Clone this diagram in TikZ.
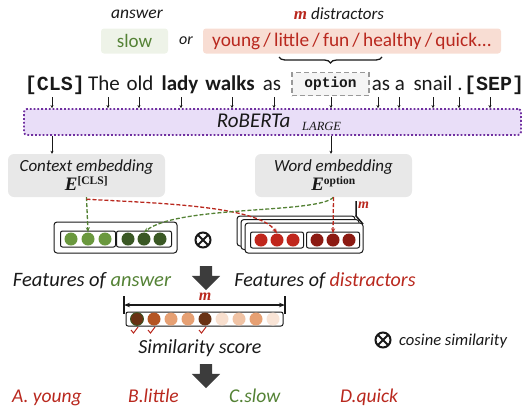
\documentclass[tikz,border=0pt]{standalone}
\usepackage{fontspec}
\setmainfont{Carlito}
\setmonofont{Liberation Mono}
\newfontfamily\seriffont{Liberation Serif}
\usetikzlibrary{shapes.arrows,arrows.meta,decorations.pathreplacing,calc}
\definecolor{txt}{RGB}{25,25,25}
\definecolor{ggreen}{RGB}{84,130,53}
\definecolor{rred}{RGB}{185,40,30}
\definecolor{greenfill}{RGB}{238,243,232}
\definecolor{redfill}{RGB}{248,221,211}
\definecolor{lav}{RGB}{233,222,248}
\definecolor{purp}{RGB}{112,48,160}
\definecolor{embfill}{RGB}{232,232,232}
\definecolor{gL}{RGB}{106,152,62}
\definecolor{gD}{RGB}{58,88,36}
\definecolor{rL}{RGB}{192,38,28}
\definecolor{rD}{RGB}{140,26,18}
\definecolor{s1}{RGB}{105,50,20}
\definecolor{s2}{RGB}{180,85,35}
\definecolor{s3}{RGB}{230,160,115}
\definecolor{s6}{RGB}{248,223,206}
\definecolor{s7}{RGB}{240,195,165}
\definecolor{s9}{RGB}{249,228,214}
\definecolor{arrgray}{RGB}{60,60,60}
\tikzset{
  every node/.style={inner sep=0pt, text=txt},
  wordnode/.style={anchor=base, font=\fontsize{21}{24}\selectfont},
  tok/.style={-{Stealth[length=3pt,width=3pt]}, line width=0.6pt, txt},
  embox/.style={fill=embfill, rounded corners=6pt, minimum width=157pt, minimum height=43pt, align=center, font=\fontsize{17}{19}\selectfont},
  featbox/.style={draw=txt, line width=1pt, rounded corners=3pt, fill=white},
  innerbox/.style={draw=txt, line width=1pt, rounded corners=2pt},
  dotc/.style={circle, minimum size=13pt},
  simc/.style={circle, minimum size=13pt},
  gdash/.style={dashed, dash pattern=on 4pt off 2pt, line width=1.3pt, ggreen, -{Stealth[length=5pt,width=4pt]}},
  rdash/.style={dashed, dash pattern=on 4pt off 2pt, line width=1.3pt, rred, -{Stealth[length=5pt,width=4pt]}},
  bigarrow/.style={single arrow, shape border rotate=270, fill=arrgray, inner sep=6pt, single arrow head extend=8pt, minimum height=24pt, single arrow head indent=0pt},
  otimes/.style={circle, draw=txt, line width=2pt, minimum size=15pt, path picture={\draw[line width=2pt] (path picture bounding box.north west) -- (path picture bounding box.south east) (path picture bounding box.north east) -- (path picture bounding box.south west);}},
  chk/.style={rred, line width=1pt}
}
\newcommand{\mm}{{\seriffont\bfseries\itshape\color{rred}m}}
\newcommand{\embE}[1]{{\seriffont\bfseries\itshape\fontsize{19}{20}\selectfont E}\textsuperscript{\seriffont\bfseries\fontsize{11.5}{12}\selectfont #1}}
\begin{document}
\begin{tikzpicture}[x=1pt,y=-1pt]
\useasboundingbox (0,0) rectangle (529,410);
% top labels
\node[font=\fontsize{17.5}{19}\selectfont] (lblans) at (137,14) {\itshape answer};
\node[font=\fontsize{17}{19}\selectfont] (lbldis) at (339,14) {\mm\ \itshape distractors};
\node[fill=greenfill, rounded corners=3pt, minimum width=67pt, minimum height=25pt, font=\fontsize{19}{21}\selectfont, text=ggreen] (slow) at (134.5,41) {slow};
\node[font=\fontsize{16}{18}\selectfont] (or) at (186,41) {\itshape or};
\node[fill=redfill, rounded corners=3pt, minimum width=298pt, minimum height=25pt, font=\fontsize{19.3}{21}\selectfont, text=rred] (dis) at (352,41) {young\,/\,little\,/\,fun\,/\,healthy\,/\,quick...};
\coordinate (brR) at (382,57);
\coordinate (brL) at (279,57);
\draw[decorate, decoration={brace, amplitude=6pt}, line width=1.3pt, txt] (brR) -- (brL);
% sentence
\node[wordnode, font=\fontsize{20}{24}\selectfont\ttfamily\bfseries] (w1) at (55,90) {[CLS]};
\node[wordnode] (w2) at (104,90) {The};
\node[wordnode] (w3) at (140,90) {old};
\node[wordnode, font=\fontsize{21}{24}\selectfont\bfseries] (w4) at (180,90) {lady};
\node[wordnode, font=\fontsize{21}{24}\selectfont\bfseries] (w5) at (230,90) {walks};
\node[wordnode] (w6) at (272,90) {as};
\node[draw=gray!80, dashed, dash pattern=on 5pt off 3pt, line width=1.6pt, fill=gray!8, minimum width=77pt, minimum height=23pt, font=\fontsize{14.5}{16}\selectfont\ttfamily\bfseries] (w7) at (330.5,84) {option};
\node[wordnode] (w8) at (381,90) {as};
\node[wordnode] (w9) at (400,90) {a};
\node[wordnode] (w10) at (433,90) {snail};
\node[wordnode] (w11) at (460,90) {.};
\node[wordnode, font=\fontsize{20}{24}\selectfont\ttfamily\bfseries] (w12) at (494,90) {[SEP]};
% roberta
\node[draw=purp, dotted, line width=1.8pt, fill=lav, rounded corners=3pt, minimum width=497pt, minimum height=26pt] (rob) at (272.5,122) {};
\node[font=\fontsize{21}{22}\selectfont] (roblab) at (279,122) {\itshape RoBERTa\,\, \raisebox{-3pt}{\seriffont\itshape\fontsize{12.5}{12}\selectfont LARGE}};
\foreach \w/\xx in {w1/52,w2/108,w3/139,w4/181,w5/232,w6/274,w7/331,w8/378,w9/399,w10/433,w11/459,w12/490}{
  \coordinate (a\w) at (\xx,97);
  \draw[tok] (a\w) -- (a\w |- rob.north);
}
% embedding boxes
\node[embox] (ctx) at (86.5,175.5) {\itshape Context embedding\\[0pt] \embE{[CLS]}};
\node[embox] (wemb) at (333.5,175.5) {\itshape Word embedding\\[0pt] \embE{option}};
\draw[tok] (aw1 |- rob.south) -- (aw1 |- ctx.north);
\draw[tok] (aw7 |- rob.south) -- (aw7 |- wemb.north);
% answer features
\node[featbox, minimum width=123pt, minimum height=31pt] (fa) at (115.5,237.5) {};
\node[innerbox, minimum width=55pt, minimum height=16pt] (fa1) at (88,239) {};
\node[innerbox, minimum width=55pt, minimum height=16pt] (fa2) at (144,239) {};
\node[dotc, fill=gL] (ga1) at (71,239) {};
\node[dotc, fill=gL] (ga2) at (88,239) {};
\node[dotc, fill=gL] (ga3) at (105,239) {};
\node[dotc, fill=gD] (gb1) at (128,239) {};
\node[dotc, fill=gD] (gb2) at (144,239) {};
\node[dotc, fill=gD] (gb3) at (160,239) {};
% distractor features (stack)
\node[featbox, minimum width=118pt, minimum height=30pt] (fdb) at (296,231) {};
\node[featbox, minimum width=118pt, minimum height=30pt] (fdm) at (300,234.5) {};
\node[featbox, minimum width=118pt, minimum height=30pt] (fd) at (304,238) {};
\node[innerbox, minimum width=53pt, minimum height=16pt] (fd1) at (277,240) {};
\node[innerbox, minimum width=53pt, minimum height=16pt] (fd2) at (333,240) {};
\node[dotc, fill=rL] (ra1) at (261,240) {};
\node[dotc, fill=rL] (ra2) at (277,240) {};
\node[dotc, fill=rL] (ra3) at (293,240) {};
\node[dotc, fill=rD] (rb1) at (317,240) {};
\node[dotc, fill=rD] (rb2) at (333,240) {};
\node[dotc, fill=rD] (rb3) at (349,240) {};
\coordinate (mtop) at (356,201);
\coordinate (mbot) at (356,216);
\coordinate (mend) at (363,224);
\draw[line width=1.5pt, txt] (mtop) -- (mbot) -- (mend);
\draw[line width=1pt, txt] (fdb.north east) -- (mbot);
\node[anchor=west, font=\fontsize{14}{14}\selectfont] (mlab) at (358,205) {\mm};
% dashed connectors
\draw[gdash] (ctx.south) -- (ga2.north);
\draw[rdash] ($(ctx.south)+(0,2)$) .. controls (150,203) and (258,205) .. (ra2.north);
\draw[gdash] (wemb.south) .. controls (318,214) and (178,205) .. (gb2.north);
\draw[rdash] (wemb.south) -- (rb2.north);
% otimes
\node[otimes] (ot) at (203,240) {};
% feature labels
\node[font=\fontsize{20.5}{22}\selectfont] (lfa) at (92,281) {\itshape Features of {\color{ggreen}answer}};
\node[font=\fontsize{20}{22}\selectfont] (lfd) at (325,281) {\itshape Features of {\color{rred}distractors}};
\node[bigarrow] (ba1) at (206,275) {};
% similarity
\node[featbox, rounded corners=2pt, minimum width=157pt, minimum height=14pt] (sim) at (204.5,319) {};
\foreach \i/\xx/\cc in {1/137/s1,2/154/s2,3/171/s3,4/188/s3,5/205/s1,6/222/s6,7/239/s7,8/256/s3,9/273/s9}{
  \node[simc, fill=\cc] (sc\i) at (\xx,319) {};
}
\draw[gD, line width=0.8pt] (sc1) circle (6.5pt);
\coordinate (dimL) at (124,305);
\coordinate (dimR) at (285,305);
\draw[line width=1.3pt, txt] ($(dimL)+(0,-9)$) -- ($(dimL)+(0,9)$);
\draw[line width=1.3pt, txt] ($(dimR)+(0,-9)$) -- ($(dimR)+(0,9)$);
\draw[line width=1.3pt, txt, {Stealth[length=6pt]}-{Stealth[length=6pt]}] (dimL) -- (dimR);
\node[font=\fontsize{16}{16}\selectfont] (mdim) at (205,297) {\mm};
\foreach \i in {1,2,5}{
  \draw[chk] ($(sc\i)+(-6,11)$) -- ($(sc\i)+(-3.5,14)$) -- ($(sc\i)+(1,8)$);
}
\node[font=\fontsize{20}{22}\selectfont] (lsim) at (200,348) {\itshape Similarity score};
\node[otimes] (ot2) at (383,340) {};
\node[anchor=west, font=\fontsize{16.6}{18}\selectfont] (lcos) at (399,341) {\itshape cosine similarity};
\node[bigarrow] (ba2) at (206,373) {};
% options
\node[anchor=base west, font=\fontsize{19.5}{21}\selectfont, text=rred] (oa) at (12,402) {\itshape A. young};
\node[anchor=base west, font=\fontsize{19.5}{21}\selectfont, text=rred] (ob) at (128,402) {\itshape B.little};
\node[anchor=base west, font=\fontsize{19.5}{21}\selectfont, text=ggreen] (oc) at (229,402) {\itshape C.slow};
\node[anchor=base west, font=\fontsize{19.5}{21}\selectfont, text=rred] (od) at (340,402) {\itshape D.quick};
\end{tikzpicture}
\end{document}
